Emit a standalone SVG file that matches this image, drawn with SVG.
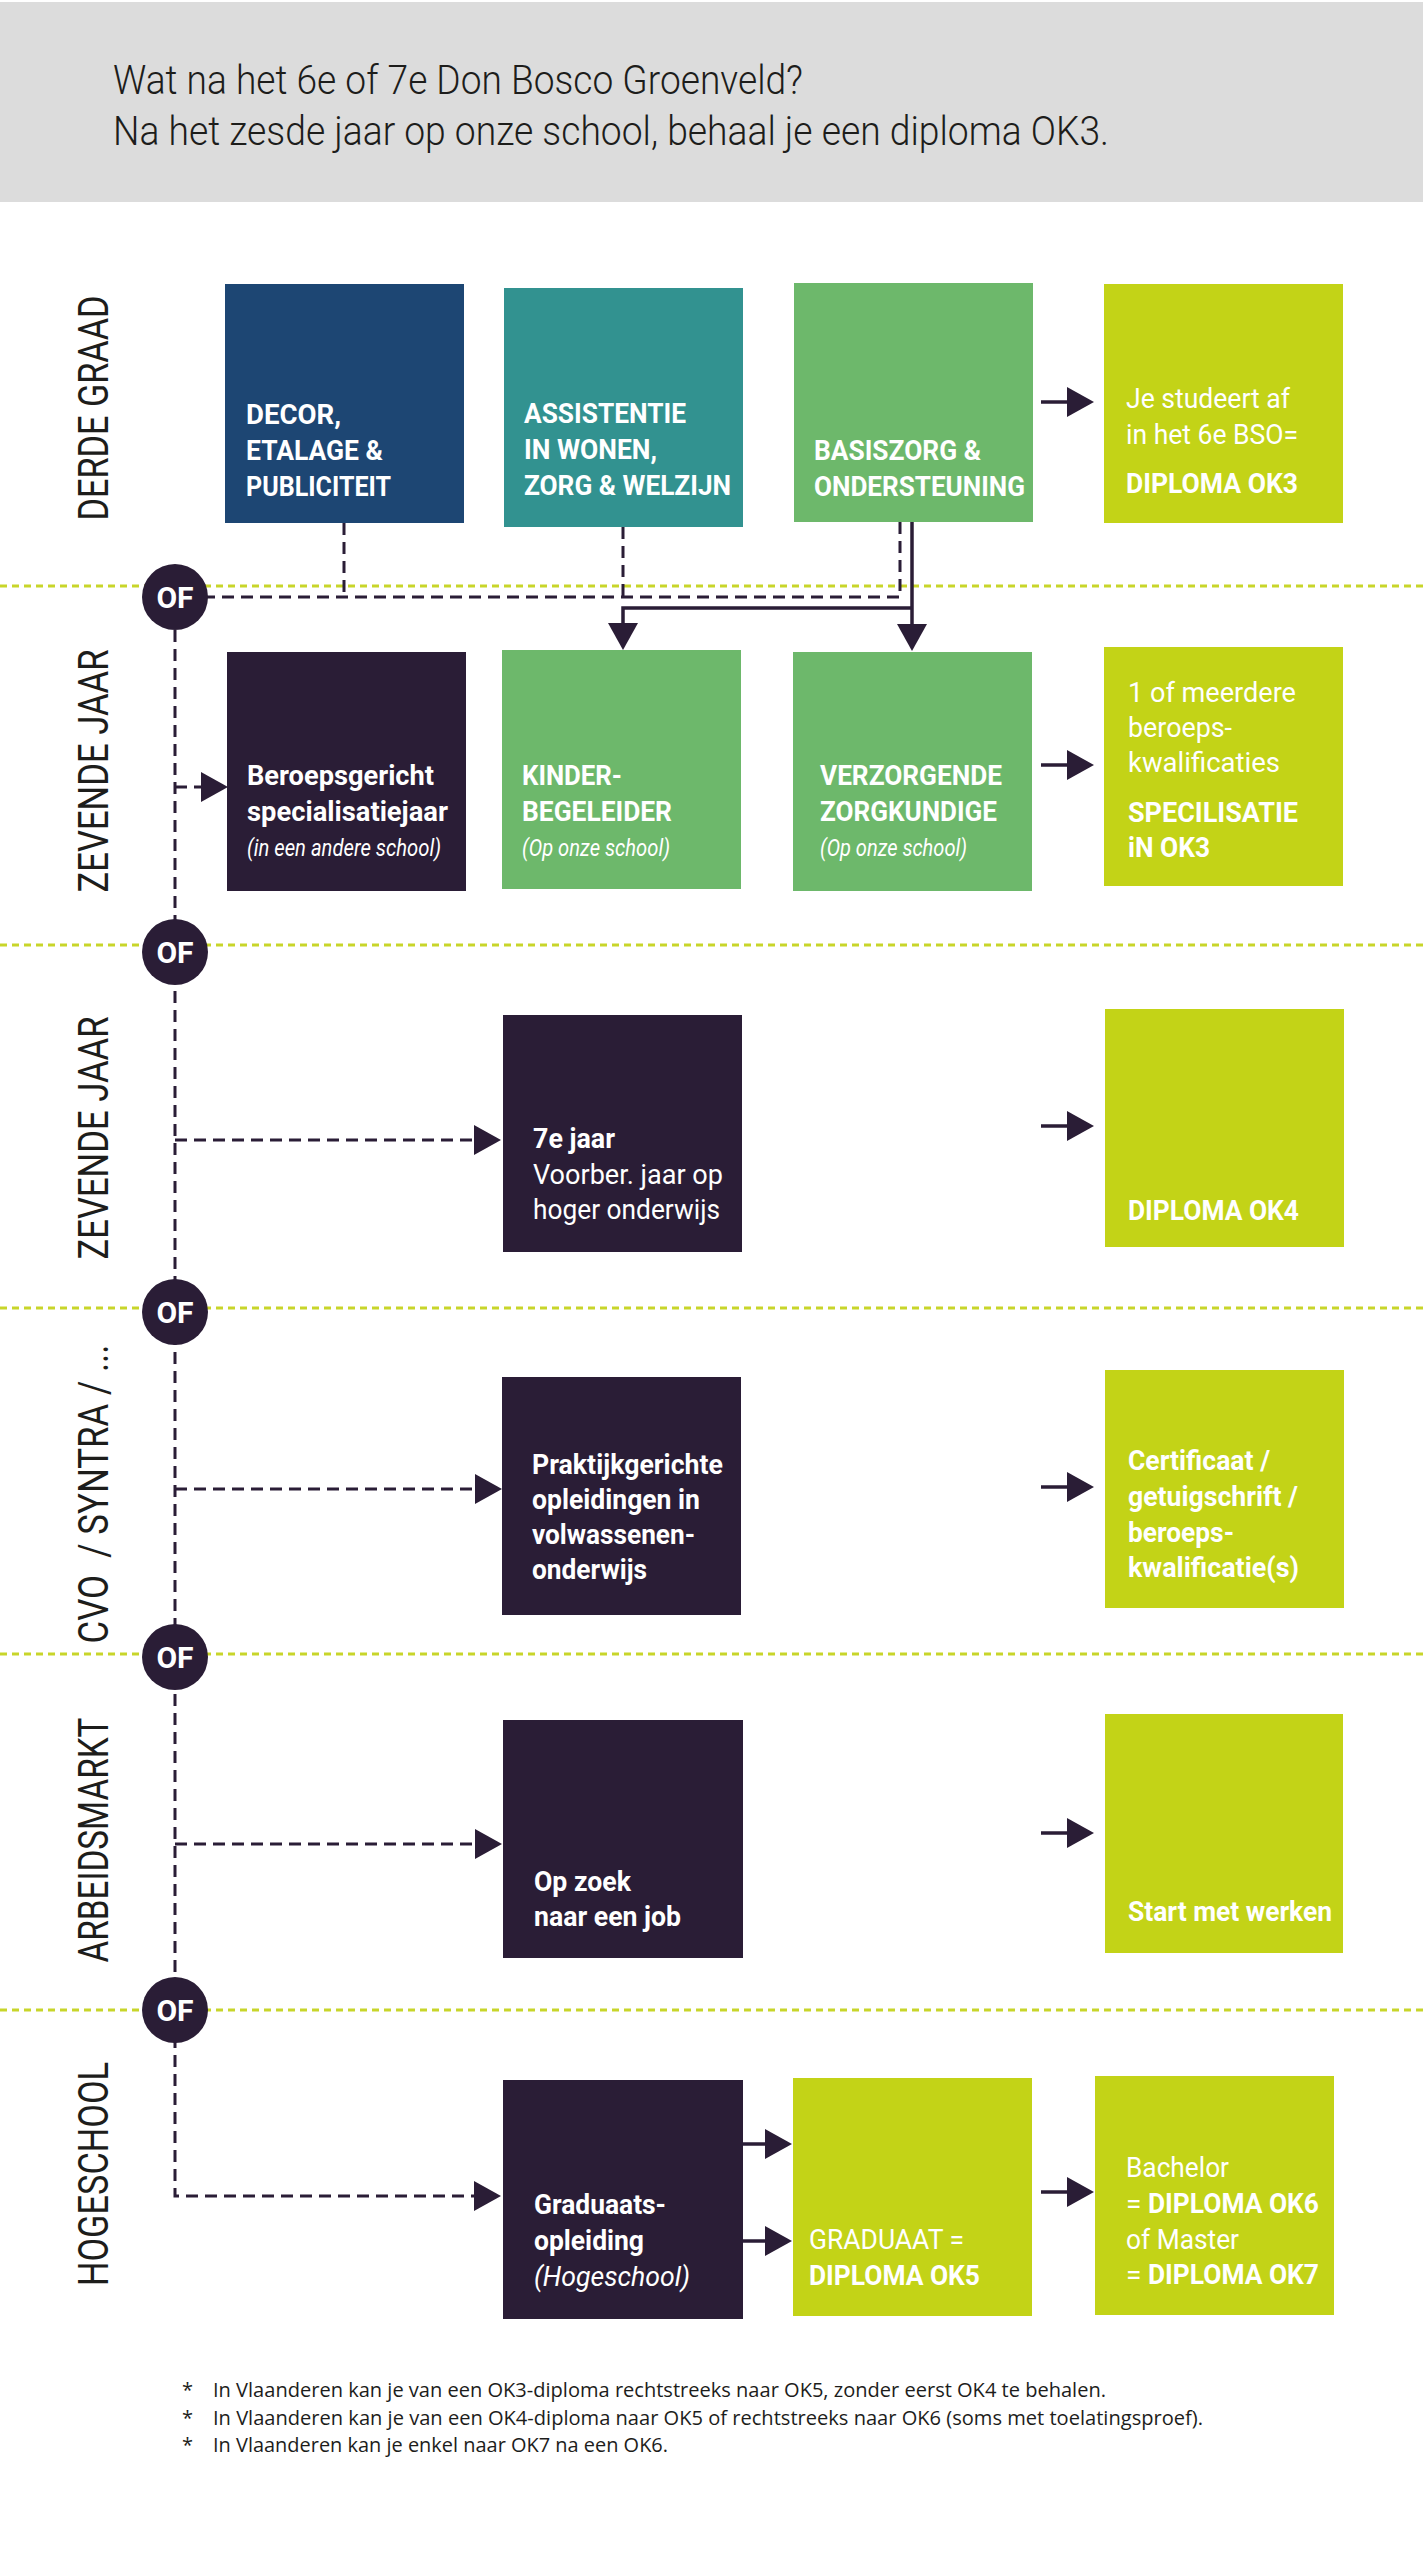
<svg xmlns="http://www.w3.org/2000/svg" width="1423" height="2560" viewBox="0 0 1423 2560">
<style>
text{font-family:Roboto,"Liberation Sans",sans-serif}
.t{font-size:41px;font-weight:300;fill:#1d1d1b}
.lab{font-size:42px;font-weight:400;fill:#1d1d1b;text-anchor:middle}
.b{font-size:28px;font-weight:700;fill:#fff}
.l{font-size:28px;font-weight:400;fill:#fff}
.i{font-size:23px;font-weight:400;font-style:italic;fill:#fff}
.il{font-size:28px;font-weight:400;font-style:italic;fill:#fff}
.of{font-size:30px;font-weight:700;fill:#fff;text-anchor:middle}
.fn{font-family:"Open Sans","Liberation Sans",sans-serif;font-size:20px;fill:#1d1d1b}
.blue{fill:#1d4673}.teal{fill:#329290}.green{fill:#6db86b}.lime{fill:#c3d317}.dark{fill:#2a1d36}
.dot{stroke:#c8d52a;stroke-width:3;stroke-dasharray:7 5;fill:none}
.dash{stroke:#2a1d36;stroke-width:3;stroke-dasharray:12 7;fill:none}
.solid{stroke:#2a1d36;stroke-width:3.5;fill:none}
.circ{fill:#2a1d36}
</style>
<defs>
<marker id="ah" markerUnits="userSpaceOnUse" markerWidth="28" markerHeight="30" refX="0" refY="15" orient="auto">
<path d="M0,0 L27,15 L0,30 z" fill="#2a1d36"/>
</marker>
</defs>

<rect x="0" y="2" width="1423" height="200" fill="#dcdcdc"/>
<text class="t" x="113" y="94" textLength="690" lengthAdjust="spacingAndGlyphs">Wat na het 6e of 7e Don Bosco Groenveld?</text>
<text class="t" x="113" y="145" textLength="996" lengthAdjust="spacingAndGlyphs">Na het zesde jaar op onze school, behaal je een diploma OK3.</text>

<g id="labels">
<text class="lab" transform="translate(108,408) rotate(-90)" textLength="225" lengthAdjust="spacingAndGlyphs">DERDE GRAAD</text>
<text class="lab" transform="translate(108,771) rotate(-90)" textLength="243" lengthAdjust="spacingAndGlyphs">ZEVENDE JAAR</text>
<text class="lab" transform="translate(108,1138) rotate(-90)" textLength="243" lengthAdjust="spacingAndGlyphs">ZEVENDE JAAR</text>
<text class="lab" transform="translate(108,1494) rotate(-90)" textLength="299" lengthAdjust="spacingAndGlyphs" xml:space="preserve">CVO  / SYNTRA / ...</text>
<text class="lab" transform="translate(108,1840) rotate(-90)" textLength="245" lengthAdjust="spacingAndGlyphs">ARBEIDSMARKT</text>
<text class="lab" transform="translate(108,2174) rotate(-90)" textLength="224" lengthAdjust="spacingAndGlyphs">HOGESCHOOL</text>
</g>

<g id="dividers">
<line class="dot" x1="0" y1="586" x2="1423" y2="586"/>
<line class="dot" x1="0" y1="945" x2="1423" y2="945"/>
<line class="dot" x1="0" y1="1308" x2="1423" y2="1308"/>
<line class="dot" x1="0" y1="1654" x2="1423" y2="1654"/>
<line class="dot" x1="0" y1="2010" x2="1423" y2="2010"/>
</g>

<g id="connectors">
<path class="dash" d="M344 523 V597"/>
<path class="dash" d="M623 527 V597"/>
<path class="dash" d="M900 522 V597 H175"/>
<path class="dash" d="M175 630 V2196 H474" marker-end="url(#ah)"/>
<path class="dash" d="M175 787 H201" marker-end="url(#ah)"/>
<path class="dash" d="M175 1140 H474" marker-end="url(#ah)"/>
<path class="dash" d="M175 1489 H475" marker-end="url(#ah)"/>
<path class="dash" d="M175 1844 H475" marker-end="url(#ah)"/>
<path class="solid" d="M912 522 V624" marker-end="url(#ah)"/>
<path class="solid" d="M912 608 H623 V623" marker-end="url(#ah)"/>
<path class="solid" d="M1041 402 H1067" marker-end="url(#ah)"/>
<path class="solid" d="M1041 765 H1067" marker-end="url(#ah)"/>
<path class="solid" d="M1041 1126 H1067" marker-end="url(#ah)"/>
<path class="solid" d="M1041 1487 H1067" marker-end="url(#ah)"/>
<path class="solid" d="M1041 1833 H1067" marker-end="url(#ah)"/>
<path class="solid" d="M743 2144 H765" marker-end="url(#ah)"/>
<path class="solid" d="M743 2241 H765" marker-end="url(#ah)"/>
<path class="solid" d="M1041 2192 H1067" marker-end="url(#ah)"/>
</g>

<g id="of-circles">
<g id="of1"><circle class="circ" cx="175" cy="597" r="33"/><text class="of" x="175" y="608">OF</text></g>
<g id="of2"><circle class="circ" cx="175" cy="952" r="33"/><text class="of" x="175" y="963">OF</text></g>
<g id="of3"><circle class="circ" cx="175" cy="1312" r="33"/><text class="of" x="175" y="1323">OF</text></g>
<g id="of4"><circle class="circ" cx="175" cy="1657" r="33"/><text class="of" x="175" y="1668">OF</text></g>
<g id="of5"><circle class="circ" cx="175" cy="2010" r="33"/><text class="of" x="175" y="2021">OF</text></g>
</g>

<g id="decor">
<rect class="blue" x="225" y="284" width="239" height="239"/>
<text class="b" x="246" y="424" textLength="95" lengthAdjust="spacingAndGlyphs">DECOR,</text>
<text class="b" x="246" y="460" textLength="137" lengthAdjust="spacingAndGlyphs">ETALAGE &amp;</text>
<text class="b" x="246" y="496" textLength="145" lengthAdjust="spacingAndGlyphs">PUBLICITEIT</text>
</g>
<g id="assistentie">
<rect class="teal" x="504" y="288" width="239" height="239"/>
<text class="b" x="524" y="423" textLength="162" lengthAdjust="spacingAndGlyphs">ASSISTENTIE</text>
<text class="b" x="524" y="459" textLength="133" lengthAdjust="spacingAndGlyphs">IN WONEN,</text>
<text class="b" x="524" y="495" textLength="207" lengthAdjust="spacingAndGlyphs">ZORG &amp; WELZIJN</text>
</g>
<g id="basiszorg">
<rect class="green" x="794" y="283" width="239" height="239"/>
<text class="b" x="814" y="460" textLength="167" lengthAdjust="spacingAndGlyphs">BASISZORG &amp;</text>
<text class="b" x="814" y="496" textLength="211" lengthAdjust="spacingAndGlyphs">ONDERSTEUNING</text>
</g>
<g id="ok3">
<rect class="lime" x="1104" y="284" width="239" height="239"/>
<text class="l" x="1126" y="408" textLength="164" lengthAdjust="spacingAndGlyphs">Je studeert af</text>
<text class="l" x="1126" y="444" textLength="172" lengthAdjust="spacingAndGlyphs">in het 6e BSO=</text>
<text class="b" x="1126" y="493" textLength="172" lengthAdjust="spacingAndGlyphs">DIPLOMA OK3</text>
</g>

<g id="beroepsgericht">
<rect class="dark" x="227" y="652" width="239" height="239"/>
<text class="b" x="247" y="785" textLength="187" lengthAdjust="spacingAndGlyphs">Beroepsgericht</text>
<text class="b" x="247" y="821" textLength="201" lengthAdjust="spacingAndGlyphs">specialisatiejaar</text>
<text class="i" x="247" y="856" textLength="194" lengthAdjust="spacingAndGlyphs">(in een andere school)</text>
</g>
<g id="kinderbegeleider">
<rect class="green" x="502" y="650" width="239" height="239"/>
<text class="b" x="522" y="785" textLength="100" lengthAdjust="spacingAndGlyphs">KINDER-</text>
<text class="b" x="522" y="821" textLength="150" lengthAdjust="spacingAndGlyphs">BEGELEIDER</text>
<text class="i" x="522" y="856" textLength="148" lengthAdjust="spacingAndGlyphs">(Op onze school)</text>
</g>
<g id="verzorgende">
<rect class="green" x="793" y="652" width="239" height="239"/>
<text class="b" x="820" y="785" textLength="182" lengthAdjust="spacingAndGlyphs">VERZORGENDE</text>
<text class="b" x="820" y="821" textLength="177" lengthAdjust="spacingAndGlyphs">ZORGKUNDIGE</text>
<text class="i" x="820" y="856" textLength="147" lengthAdjust="spacingAndGlyphs">(Op onze school)</text>
</g>
<g id="specialisatie">
<rect class="lime" x="1104" y="647" width="239" height="239"/>
<text class="l" x="1128" y="702" textLength="168" lengthAdjust="spacingAndGlyphs">1 of meerdere</text>
<text class="l" x="1128" y="737" textLength="104" lengthAdjust="spacingAndGlyphs">beroeps-</text>
<text class="l" x="1128" y="772" textLength="152" lengthAdjust="spacingAndGlyphs">kwalificaties</text>
<text class="b" x="1128" y="822" textLength="170" lengthAdjust="spacingAndGlyphs">SPECILISATIE</text>
<text class="b" x="1128" y="857" textLength="82" lengthAdjust="spacingAndGlyphs">iN OK3</text>
</g>

<g id="zevende-jaar">
<rect class="dark" x="503" y="1015" width="239" height="237"/>
<text class="b" x="533" y="1148" textLength="82" lengthAdjust="spacingAndGlyphs">7e jaar</text>
<text class="l" x="533" y="1184" textLength="190" lengthAdjust="spacingAndGlyphs">Voorber. jaar op</text>
<text class="l" x="533" y="1219" textLength="187" lengthAdjust="spacingAndGlyphs">hoger onderwijs</text>
</g>
<g id="ok4">
<rect class="lime" x="1105" y="1009" width="239" height="238"/>
<text class="b" x="1128" y="1220" textLength="171" lengthAdjust="spacingAndGlyphs">DIPLOMA OK4</text>
</g>

<g id="praktijk">
<rect class="dark" x="502" y="1377" width="239" height="238"/>
<text class="b" x="532" y="1474" textLength="191" lengthAdjust="spacingAndGlyphs">Praktijkgerichte</text>
<text class="b" x="532" y="1509" textLength="168" lengthAdjust="spacingAndGlyphs">opleidingen in</text>
<text class="b" x="532" y="1544" textLength="163" lengthAdjust="spacingAndGlyphs">volwassenen-</text>
<text class="b" x="532" y="1579" textLength="115" lengthAdjust="spacingAndGlyphs">onderwijs</text>
</g>
<g id="certificaat">
<rect class="lime" x="1105" y="1370" width="239" height="238"/>
<text class="b" x="1128" y="1470" textLength="142" lengthAdjust="spacingAndGlyphs">Certificaat /</text>
<text class="b" x="1128" y="1506" textLength="170" lengthAdjust="spacingAndGlyphs">getuigschrift /</text>
<text class="b" x="1128" y="1542" textLength="106" lengthAdjust="spacingAndGlyphs">beroeps-</text>
<text class="b" x="1128" y="1577" textLength="171" lengthAdjust="spacingAndGlyphs">kwalificatie(s)</text>
</g>

<g id="op-zoek">
<rect class="dark" x="503" y="1720" width="240" height="238"/>
<text class="b" x="534" y="1891" textLength="97" lengthAdjust="spacingAndGlyphs">Op zoek</text>
<text class="b" x="534" y="1926" textLength="147" lengthAdjust="spacingAndGlyphs">naar een job</text>
</g>
<g id="start">
<rect class="lime" x="1105" y="1714" width="238" height="239"/>
<text class="b" x="1128" y="1921" textLength="204" lengthAdjust="spacingAndGlyphs">Start met werken</text>
</g>

<g id="graduaatsopleiding">
<rect class="dark" x="503" y="2080" width="240" height="239"/>
<text class="b" x="534" y="2214" textLength="132" lengthAdjust="spacingAndGlyphs">Graduaats-</text>
<text class="b" x="534" y="2250" textLength="110" lengthAdjust="spacingAndGlyphs">opleiding</text>
<text class="il" x="534" y="2286" textLength="156" lengthAdjust="spacingAndGlyphs">(Hogeschool)</text>
</g>
<g id="graduaat">
<rect class="lime" x="793" y="2078" width="239" height="238"/>
<text class="l" x="809" y="2249" textLength="155" lengthAdjust="spacingAndGlyphs">GRADUAAT =</text>
<text class="b" x="809" y="2285" textLength="171" lengthAdjust="spacingAndGlyphs">DIPLOMA OK5</text>
</g>
<g id="bachelor">
<rect class="lime" x="1095" y="2076" width="239" height="239"/>
<text class="l" x="1126" y="2177" textLength="103" lengthAdjust="spacingAndGlyphs">Bachelor</text>
<text class="l" x="1126" y="2213">=</text>
<text class="b" x="1148" y="2213" textLength="171" lengthAdjust="spacingAndGlyphs">DIPLOMA OK6</text>
<text class="l" x="1126" y="2249" textLength="113" lengthAdjust="spacingAndGlyphs">of Master</text>
<text class="l" x="1126" y="2284">=</text>
<text class="b" x="1148" y="2284" textLength="171" lengthAdjust="spacingAndGlyphs">DIPLOMA OK7</text>
</g>

<g id="footnotes">
<text class="fn" x="182" y="2397">*</text>
<text class="fn" x="213" y="2397" textLength="893" lengthAdjust="spacingAndGlyphs">In Vlaanderen kan je van een OK3-diploma rechtstreeks naar OK5, zonder eerst OK4 te behalen.</text>
<text class="fn" x="182" y="2425">*</text>
<text class="fn" x="213" y="2425" textLength="990" lengthAdjust="spacingAndGlyphs">In Vlaanderen kan je van een OK4-diploma naar OK5 of rechtstreeks naar OK6 (soms met toelatingsproef).</text>
<text class="fn" x="182" y="2452">*</text>
<text class="fn" x="213" y="2452" textLength="455" lengthAdjust="spacingAndGlyphs">In Vlaanderen kan je enkel naar OK7 na een OK6.</text>
</g>
</svg>
